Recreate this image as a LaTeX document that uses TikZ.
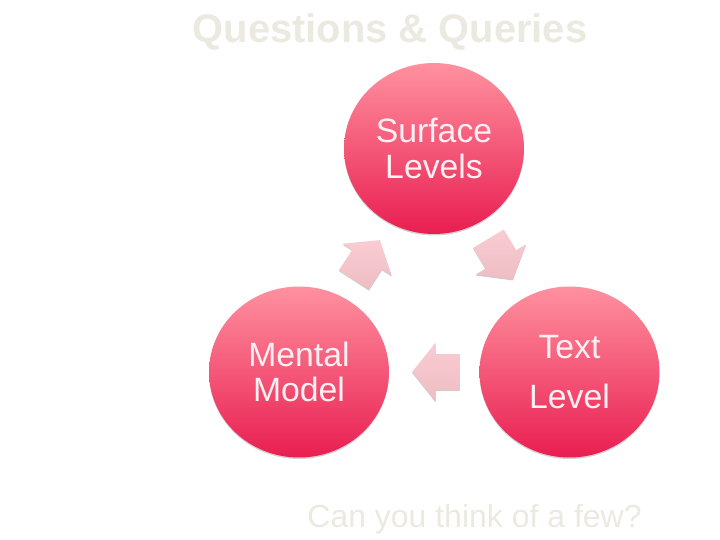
\documentclass[tikz,border=0pt]{standalone}
\usepackage{fontspec}
\setmainfont{Liberation Sans}
\usepackage{xcolor}
\usetikzlibrary{shapes.geometric, shapes.arrows, shadows}
\definecolor{palegrey}{HTML}{EBE9E0}
\definecolor{circletop}{HTML}{FF919F}
\definecolor{circlebottom}{HTML}{E91E51}
\definecolor{circletext}{HTML}{FFF1F3}
\definecolor{arrowtop}{HTML}{F9CCD2}
\definecolor{arrowbottom}{HTML}{EEBDC4}
\tikzset{
    levelcircle/.style={ellipse, minimum width=3.6cm, minimum height=3.42cm, inner sep=0pt,
        top color=circletop, bottom color=circlebottom, text=circletext, align=center,
        drop shadow={shadow xshift=0pt, shadow yshift=-0.03cm, opacity=0.18, fill=black},
        font=\fontsize{19.2}{20}\selectfont},
    blockarrow/.style={single arrow, minimum height=0.95cm, minimum width=1.14cm,
        inner xsep=0pt, inner ysep=0.35cm,
        single arrow head extend=0.23cm, single arrow tip angle=103,
        top color=arrowtop, bottom color=arrowbottom,
        drop shadow={shadow xshift=0pt, shadow yshift=-0.02cm, opacity=0.2, fill=black}},
    paletext/.style={text=palegrey, inner sep=0pt}
}
\begin{document}
\begin{tikzpicture}[x=0.02cm, y=-0.02cm]
    \useasboundingbox (0, 0) rectangle (720, 540);

    % Circles
    \node[levelcircle] (surface) at (434, 148.5) {Surface\\Levels};
    \node[levelcircle] (mental) at (299, 372) {Mental\\Model};
    \node[levelcircle] (textlevel) at (569.5, 372) {Text\\[8.5pt]Level};

    % Arrows
    \node[blockarrow, rotate=57] (mentaltosurface) at (363, 266) {};
    \node[blockarrow, rotate=-59] (surfacetotext) at (497, 253) {};
    \node[blockarrow, rotate=180] (texttomental) at (443, 372) {};

    % Titles
    \node[paletext, font=\fontsize{22.7}{26}\bfseries\selectfont] (title) at (390, 32) {Questions \& Queries};
    \node[paletext, font=\fontsize{18.2}{22}\selectfont] (question) at (474.5, 519) {Can you think of a few?};
\end{tikzpicture}
\end{document}
